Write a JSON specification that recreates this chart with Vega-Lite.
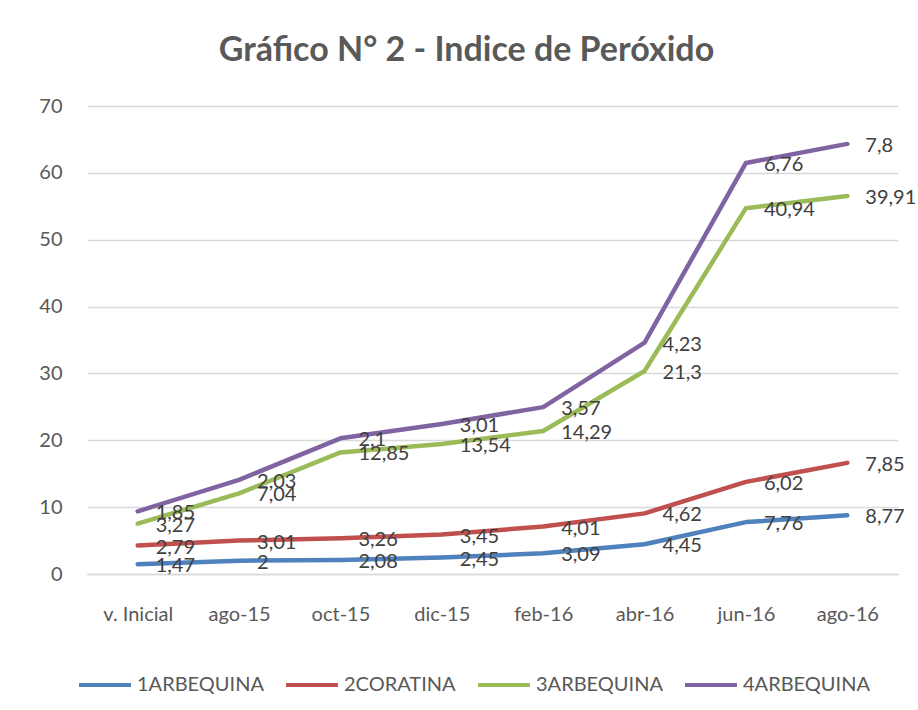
{
  "$schema": "https://vega.github.io/schema/vega-lite/v6.json",
  "width": 811,
  "height": 468,
  "autosize": {"type": "none"},
  "padding": {"left": 87, "top": 106, "right": 20, "bottom": 136},
  "background": "white",
  "title": {
    "text": "Gráfico N° 2 - Indice de Peróxido",
    "font": "Lato",
    "fontSize": 34,
    "fontWeight": "bold",
    "color": "#595959",
    "anchor": "middle",
    "frame": "group",
    "dx": -26,
    "offset": 28
  },
  "data": {
    "values": [
      {"fecha": "v. Inicial", "serie": "1ARBEQUINA", "valor": 1.47},
      {"fecha": "ago-15", "serie": "1ARBEQUINA", "valor": 2},
      {"fecha": "oct-15", "serie": "1ARBEQUINA", "valor": 2.08},
      {"fecha": "dic-15", "serie": "1ARBEQUINA", "valor": 2.45},
      {"fecha": "feb-16", "serie": "1ARBEQUINA", "valor": 3.09},
      {"fecha": "abr-16", "serie": "1ARBEQUINA", "valor": 4.45},
      {"fecha": "jun-16", "serie": "1ARBEQUINA", "valor": 7.76},
      {"fecha": "ago-16", "serie": "1ARBEQUINA", "valor": 8.77},
      {"fecha": "v. Inicial", "serie": "2CORATINA", "valor": 2.79},
      {"fecha": "ago-15", "serie": "2CORATINA", "valor": 3.01},
      {"fecha": "oct-15", "serie": "2CORATINA", "valor": 3.26},
      {"fecha": "dic-15", "serie": "2CORATINA", "valor": 3.45},
      {"fecha": "feb-16", "serie": "2CORATINA", "valor": 4.01},
      {"fecha": "abr-16", "serie": "2CORATINA", "valor": 4.62},
      {"fecha": "jun-16", "serie": "2CORATINA", "valor": 6.02},
      {"fecha": "ago-16", "serie": "2CORATINA", "valor": 7.85},
      {"fecha": "v. Inicial", "serie": "3ARBEQUINA", "valor": 3.27},
      {"fecha": "ago-15", "serie": "3ARBEQUINA", "valor": 7.04},
      {"fecha": "oct-15", "serie": "3ARBEQUINA", "valor": 12.85},
      {"fecha": "dic-15", "serie": "3ARBEQUINA", "valor": 13.54},
      {"fecha": "feb-16", "serie": "3ARBEQUINA", "valor": 14.29},
      {"fecha": "abr-16", "serie": "3ARBEQUINA", "valor": 21.3},
      {"fecha": "jun-16", "serie": "3ARBEQUINA", "valor": 40.94},
      {"fecha": "ago-16", "serie": "3ARBEQUINA", "valor": 39.91},
      {"fecha": "v. Inicial", "serie": "4ARBEQUINA", "valor": 1.85},
      {"fecha": "ago-15", "serie": "4ARBEQUINA", "valor": 2.03},
      {"fecha": "oct-15", "serie": "4ARBEQUINA", "valor": 2.1},
      {"fecha": "dic-15", "serie": "4ARBEQUINA", "valor": 3.01},
      {"fecha": "feb-16", "serie": "4ARBEQUINA", "valor": 3.57},
      {"fecha": "abr-16", "serie": "4ARBEQUINA", "valor": 4.23},
      {"fecha": "jun-16", "serie": "4ARBEQUINA", "valor": 6.76},
      {"fecha": "ago-16", "serie": "4ARBEQUINA", "valor": 7.8}
    ]
  },
  "transform": [
    {"stack": "valor", "groupby": ["fecha"], "sort": [{"field": "serie", "order": "ascending"}], "as": ["y0", "y1"]}
  ],
  "encoding": {
    "x": {
      "field": "fecha",
      "type": "nominal",
      "sort": ["v. Inicial", "ago-15", "oct-15", "dic-15", "feb-16", "abr-16", "jun-16", "ago-16"],
      "scale": {"type": "point", "padding": 0.5},
      "axis": {
        "title": null,
        "labelAngle": 0,
        "ticks": false,
        "domain": true,
        "domainColor": "#d9d9d9",
        "domainWidth": 1.5,
        "grid": false,
        "labelFont": "Lato",
        "labelFontSize": 20,
        "labelColor": "#595959",
        "labelPadding": 30
      }
    },
    "y": {
      "field": "y1",
      "type": "quantitative",
      "scale": {"domain": [0, 70], "nice": false},
      "axis": {
        "title": null,
        "values": [0, 10, 20, 30, 40, 50, 60, 70],
        "ticks": false,
        "domain": false,
        "gridColor": "#d9d9d9",
        "gridWidth": 1.5,
        "labelFont": "Lato",
        "labelFontSize": 20,
        "labelColor": "#595959",
        "labelPadding": 25
      }
    }
  },
  "layer": [
    {
      "mark": {"type": "line", "strokeWidth": 4.5, "strokeCap": "round", "strokeJoin": "round"},
      "encoding": {
        "color": {
          "field": "serie",
          "type": "nominal",
          "scale": {
            "domain": ["1ARBEQUINA", "2CORATINA", "3ARBEQUINA", "4ARBEQUINA"],
            "range": ["#4f81bd", "#c0504d", "#9bbb59", "#8064a2"]
          },
          "legend": {
            "title": null,
            "orient": "none",
            "legendX": -10,
            "legendY": 551,
            "direction": "horizontal",
            "symbolType": "stroke",
            "symbolSize": 2700,
            "symbolStrokeWidth": 4,
            "labelFont": "Lato",
            "labelFontSize": 20,
            "labelColor": "#595959",
            "labelOffset": 4,
            "columnPadding": 14
          }
        }
      }
    },
    {
      "mark": {"type": "text", "align": "left", "baseline": "middle", "dx": 18, "dy": 2, "font": "Lato", "fontSize": 20, "color": "#404040"},
      "encoding": {
        "text": {"field": "valor", "type": "quantitative", "format": "~g"},
        "detail": {"field": "serie"}
      }
    }
  ],
  "config": {
    "view": {"stroke": null},
    "locale": {
      "number": {"decimal": ",", "thousands": ".", "grouping": [3], "currency": ["", " €"]}
    }
  }
}
